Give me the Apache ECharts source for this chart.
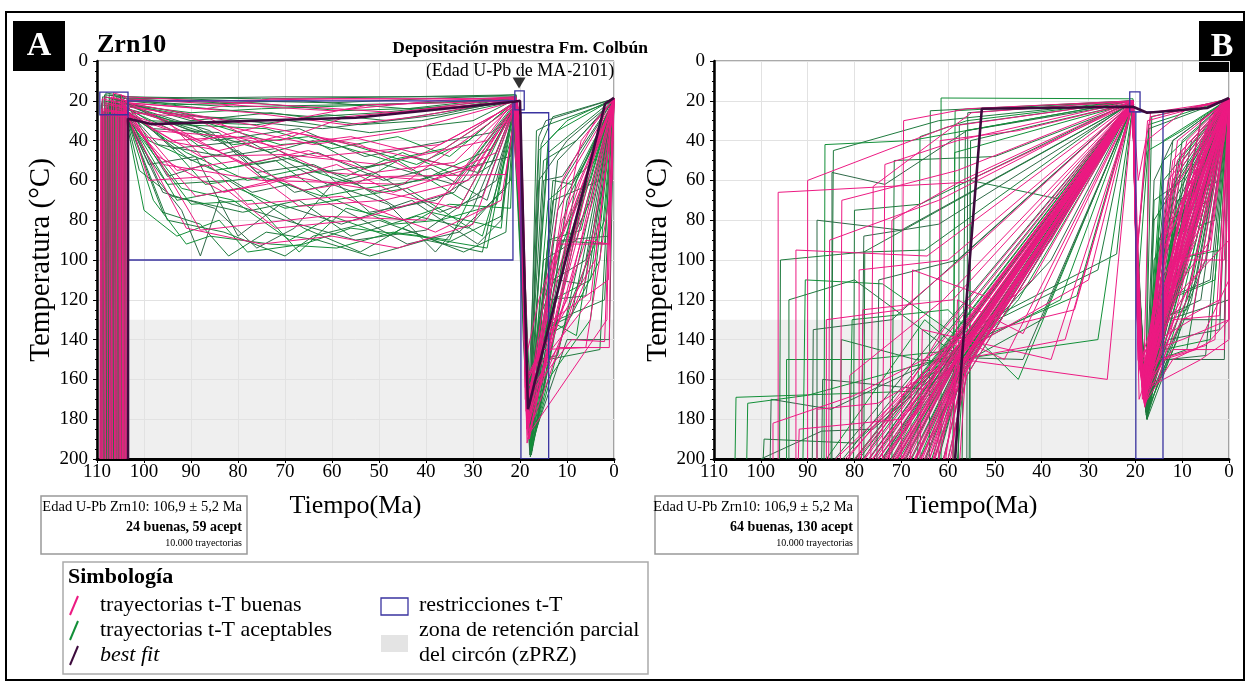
<!DOCTYPE html>
<html><head><meta charset="utf-8">
<script src="https://cdn.jsdelivr.net/npm/echarts@6/dist/echarts.min.js"></script>
<style>html,body{margin:0;padding:0;background:#fff}#c{width:1249px;height:686px}</style>
</head><body><div id="c"></div>
<script>
// ---- axes ----
const timeMin = 0, timeMax = 110, timeStep = 10;
const tempMin = 0, tempMax = 200, tempStep = 20;
const zprzTop = 130, zprzBottom = 200;

// ---- t-T constraint boxes [tOld, Ttop, tYoung, Tbottom] ----
const boxesA = [[109.4,15.6,103.4,27],[103.4,20,21.5,100],[21.1,15,19.1,24.6],[19.8,26,13.9,200]];
const boxesB = [[21.2,15.5,19.0,25.6],[19.9,25.6,14.1,200]];

// ---- best fit paths (t, T pairs, flattened) ----
const bestA = [103.4,200, 103.4,29, 98.5,31.7, 70,29.5, 55,28.5, 21.3,20.5, 20,20, 18.9,123, 18.3,175, 1.9,21.5, 0,18.5];
const bestB = [58.5,200, 57,148, 52.8,24, 20.5,23, 17.5,26, 4.7,23.6, 0,18.6];

// ---- deposition marker ----
const depMarker = [[20.2, 11]];

// ---- panel A: good paths ----
const goodA = [
[109.2,200, 109,24, 103.8,26, 88,40, 70,30, 52,22, 20.6,20, 19.6,60, 18.6,185, 9,100, 0,19],
[108.5,200, 108.3,18, 103.6,20, 85,20, 60,19, 20.8,19, 19.8,40, 18.9,170, 12,144, 1,144, 0.5,40, 0,19],
[107.8,200, 107.6,22, 103.7,24, 96,52, 75,60, 45,62, 21,22, 19.5,70, 18.3,190, 2,25, 0,19],
[107,200, 106.8,26, 104,25, 98,45, 88,85, 62,78, 40,80, 22,22, 19.4,90, 18,175, 6,90, 1,92, 0,19],
[106.3,200, 106.1,20, 103.9,21, 70,35, 50,45, 30,55, 21,22, 19.7,50, 18.7,160, 14,140, 4,100, 0,19],
[105.6,200, 105.4,25, 104,27, 92,37, 66,65, 48,58, 23,57, 20.8,21, 19.2,110, 18.1,180, 10,60, 0,20],
[105,200, 104.8,17, 103.8,19, 60,25, 38,20, 20.9,18, 19.9,35, 18.5,165, 15,150, 5,120, 0,19],
[104.4,200, 104.2,23, 103.8,24, 95,30, 78,72, 58,68, 38,86, 24,70, 20.7,22, 19.3,95, 18.4,178, 13,100, 3,40, 0,19],
[103.9,200, 103.8,26, 88,48, 70,47, 50,52, 27,40, 20.5,21, 19.6,65, 18.6,172, 8,70, 0,19],
[109,200, 108.9,19, 103.7,22, 82,33, 64,42, 44,35, 20.6,20, 19.1,130, 18.3,188, 1.5,130, 0.8,30, 0,19],
[108.2,200, 108,21, 103.9,23, 99,60, 86,58, 72,84, 55,80, 35,66, 20.4,23, 19.4,80, 18,182, 11,80, 0,20],
[107.4,200, 107.2,27, 104,26, 90,28, 76,44, 56,38, 41,47, 20.6,21, 19.7,45, 18.8,150, 16,120, 7,60, 0,19],
[106.7,200, 106.5,16, 103.6,18, 72,22, 46,26, 20.9,18, 19.5,55, 18.2,168, 9,140, 2,141, 0.6,50, 0,19],
[106,200, 105.8,24, 103.8,25, 93,55, 80,50, 67,73, 49,70, 31,60, 21,22, 19.2,120, 18.5,192, 5,50, 0,19],
[105.3,200, 105.1,21, 103.7,23, 86,29, 61,56, 39,60, 25,46, 20.7,20, 19.8,38, 18.7,176, 12,92, 1,92, 0,20],
[104.7,200, 104.5,26, 103.9,27, 97,48, 83,66, 69,58, 53,64, 33,74, 21.2,24, 19.3,100, 18.1,186, 14,160, 3,80, 0,19],
[104.1,200, 104,20, 103.7,21, 77,26, 57,32, 42,28, 20.8,19, 19.6,58, 18.4,158, 10,120, 0,19],
[109.4,200, 109.2,27, 103.8,28, 89,68, 74,62, 59,52, 47,66, 28,52, 20.5,22, 19.1,140, 18.6,180, 6,110, 0,19],
[108.8,200, 108.6,25, 103.6,26, 94,40, 81,38, 63,48, 37,42, 20.6,21, 19.4,85, 18.2,171, 7,40, 0,19],
[107.1,200, 106.9,18, 103.9,20, 79,52, 65,45, 51,56, 34,51, 21,21, 19.9,42, 18.9,164, 13,130, 1.2,110, 0,19],
[106,200, 105.8,22, 103.7,24, 100,38, 84,45, 68,36, 54,42, 43,55, 29,33, 20.7,20, 19.5,72, 18.3,184, 4,66, 0,19],
[105.1,200, 104.9,26, 103.8,27, 91,84, 75,92, 60,88, 46,94, 30,82, 21.3,25, 19.2,115, 18,190, 9,80, 0,20],
[104.6,200, 104.4,19, 103.6,21, 87,24, 73,19, 36,19, 20.9,19, 19.7,48, 18.8,162, 15,145, 6,144, 0.4,60, 0,19],
[103.7,200, 103.6,23, 98,35, 71,40, 57,28, 21.1,20, 19.3,90, 18.5,175, 11,60, 4,30, 0,19]
];

// ---- panel A: acceptable paths ----
const accA = [
[109.1,200, 108.9,20, 103.7,22, 90,26, 75,24, 50,22, 21,19, 19.5,100, 17.8,196, 12,90, 5,60, 0,19],
[108.6,200, 108.4,17, 103.9,18, 80,20, 60,21, 40,19, 20.8,17, 19.8,60, 17.5,190, 13,60, 9,62, 0,20],
[108,200, 107.8,23, 103.6,25, 97,60, 92,75, 88,98, 84,70, 70,80, 55,90, 40,85, 25,60, 21,21, 19.3,140, 17.9,198, 14,120, 6,118, 0,19],
[107.5,200, 107.3,19, 103.8,21, 99,40, 85,55, 72,50, 60,70, 44,64, 28,88, 22,40, 20.6,20, 19.6,80, 18,185, 16,45, 12,35, 0,19],
[107,200, 106.8,25, 104,26, 95,80, 83,86, 70,98, 64,88, 50,80, 36,92, 24,78, 21,22, 19.4,110, 17.6,194, 10,70, 3,36, 0,19],
[106.5,200, 106.3,21, 103.8,22, 86,35, 74,60, 62,55, 52,76, 38,70, 26,52, 20.7,20, 19.7,70, 17.9,188, 15,100, 8,90, 0,20],
[106,200, 105.8,18, 103.7,19, 93,22, 77,21, 58,25, 32,23, 20.9,18, 19.9,45, 18.2,180, 14,40, 10,30, 0,19],
[105.5,200, 105.3,26, 103.9,27, 100,45, 95,62, 82,60, 66,84, 54,96, 45,84, 32,96, 23,86, 21.2,24, 19.2,130, 17.7,197, 13,140, 4,40, 0,19],
[105,200, 104.8,24, 103.7,25, 90,50, 80,45, 68,66, 56,60, 46,74, 34,66, 21,22, 19.5,95, 18,192, 12,110, 7,112, 2,60, 0,19],
[104.5,200, 104.3,20, 103.8,21, 96,30, 81,42, 65,38, 48,50, 36,44, 20.8,20, 19.8,55, 18.4,176, 16,130, 11,100, 0,19],
[104,200, 103.9,27, 101,55, 94,68, 79,76, 67,70, 56,88, 42,78, 31,84, 22,60, 21,23, 19.3,120, 17.8,199, 14,150, 3,145, 0.5,30, 0,19],
[109.3,200, 109.1,22, 103.6,24, 89,33, 76,52, 63,46, 49,60, 39,54, 27,70, 20.6,22, 19.6,75, 17.9,193, 15,60, 11,58, 0,19],
[108.9,200, 108.7,26, 103.9,27, 98,70, 91,92, 86,88, 73,92, 59,94, 47,86, 35,90, 21.5,24, 19.2,135, 17.6,195, 9,120, 2,80, 0,20],
[108.3,200, 108.1,16, 103.8,18, 75,19, 45,18, 21,17, 19.8,38, 18.1,183, 15.5,42, 13,28, 0,19],
[107.7,200, 107.5,21, 103.7,23, 94,44, 78,40, 61,62, 51,56, 37,76, 28,68, 20.7,21, 19.5,85, 17.8,190, 12,75, 6,50, 0,19],
[107.2,200, 107,24, 103.9,25, 97,36, 87,62, 75,58, 62,68, 53,64, 41,60, 26,44, 20.6,21, 19.7,68, 18.3,182, 14,130, 8,138, 0,19],
[106.8,200, 106.6,19, 103.6,21, 88,28, 69,30, 52,36, 30,30, 20.8,19, 19.6,62, 18,187, 16.5,35, 14,32, 0,20],
[106.2,200, 106,27, 104,27, 96,66, 85,74, 76,94, 68,84, 60,62, 48,72, 38,96, 30,74, 21.1,23, 19.3,125, 17.5,196, 11,100, 5,70, 0,19],
[105.7,200, 105.5,22, 103.8,24, 91,38, 82,54, 71,48, 57,58, 45,46, 33,58, 20.7,21, 19.6,78, 17.9,189, 13,90, 2,92, 0,19],
[105.2,200, 105,17, 103.7,19, 84,21, 66,20, 44,24, 20.9,18, 19.9,40, 18.2,178, 15,50, 8,40, 0,19],
[104.8,200, 104.6,25, 103.9,26, 99,52, 89,48, 80,88, 71,72, 58,82, 43,70, 29,92, 24,80, 21.2,24, 19.2,118, 17.7,193, 10,140, 1,140, 0,19],
[104.2,200, 104,21, 103.6,22, 92,32, 74,34, 60,44, 46,38, 35,48, 20.8,20, 19.7,66, 18.1,186, 14,70, 4,50, 0,19],
[109,200, 108.8,18, 103.8,20, 86,24, 64,28, 50,26, 20.9,19, 19.8,52, 18,191, 16,150, 12,148, 0,20],
[108.4,200, 108.2,24, 103.7,25, 95,58, 87,52, 77,66, 69,62, 55,78, 44,92, 33,86, 23,64, 21,22, 19.4,105, 17.8,194, 13,110, 6,100, 0,19],
[107.9,200, 107.7,27, 103.9,28, 100,75, 93,88, 84,80, 78,96, 66,92, 56,84, 42,88, 27,94, 21.4,25, 19.2,128, 17.6,197, 9,90, 0,19],
[107.3,200, 107.1,20, 103.6,21, 90,30, 73,26, 54,32, 41,30, 20.7,20, 19.6,72, 18.3,179, 15,120, 7,65, 0,19],
[106.9,200, 106.7,23, 103.8,24, 97,42, 83,48, 72,44, 63,56, 49,52, 34,62, 20.6,21, 19.5,88, 17.9,188, 12,50, 0,20],
[106.4,200, 106.2,26, 103.7,27, 93,70, 80,64, 70,74, 59,70, 47,82, 37,80, 25,72, 21.1,23, 19.3,115, 17.7,192, 15.5,140, 10,132, 3,100, 0,19],
[105.9,200, 105.7,19, 103.9,20, 81,23, 57,22, 36,21, 20.9,18, 19.8,50, 18.2,181, 14,46, 0,19],
[105.4,200, 105.2,24, 103.8,25, 98,34, 84,36, 76,56, 64,52, 51,66, 39,58, 22,48, 20.7,21, 19.6,76, 18,184, 11,90, 1,88, 0,19],
[104.9,200, 104.7,21, 103.6,22, 94,26, 71,42, 59,40, 42,52, 31,40, 20.8,20, 19.7,64, 18.3,180, 13,120, 5,110, 0,19],
[104.3,200, 104.1,26, 103.9,27, 96,76, 88,82, 82,98, 74,86, 63,90, 52,98, 40,90, 28,96, 21.3,24, 19.2,130, 17.6,198, 12,130, 2,120, 0,19],
[109.2,200, 109,21, 103.7,22, 85,40, 67,34, 53,48, 40,42, 26,36, 20.7,20, 19.6,70, 18,185, 16,60, 10,40, 0,20],
[108.7,200, 108.5,25, 103.8,26, 91,46, 78,60, 66,54, 55,62, 46,50, 32,70, 21,22, 19.4,100, 17.8,192, 14,90, 7,85, 0,19],
[108.1,200, 107.9,22, 103.9,23, 99,30, 76,32, 61,27, 48,30, 20.8,20, 19.8,56, 18.2,182, 13,70, 3,60, 0,19],
[107.6,200, 107.4,17, 103.6,19, 70,18, 20.9,18, 19.9,42, 18.3,177, 16,38, 14.5,30, 0,19],
[107,200, 106.8,26, 103.8,27, 92,64, 81,70, 69,90, 60,78, 48,88, 39,76, 24,84, 21.2,24, 19.3,112, 17.7,195, 8,60, 0,19],
[106.6,200, 106.4,23, 103.7,24, 87,36, 73,46, 64,40, 53,54, 43,48, 29,56, 20.7,21, 19.6,74, 18.1,183, 15,135, 9,128, 0,20],
[106.1,200, 105.9,20, 103.9,21, 96,26, 79,30, 62,34, 37,27, 20.8,19, 19.7,58, 18.3,175, 12,65, 0,19],
[105.6,200, 105.4,27, 103.8,28, 97,50, 90,72, 77,70, 67,96, 57,74, 45,80, 35,72, 22,74, 21.3,25, 19.3,110, 17.7,196, 14,160, 5,130, 0,19]
];

// ---- panel B: good paths ----
const goodB = [
[72,200, 58,148, 20.5,21, 19.6,120, 18.2,165, 2,22, 0,19],
[68,200, 57,152, 20.4,22, 19.8,100, 18.5,170, 12,80, 0,19],
[76,200, 59,140, 20.6,20, 19.5,140, 18,172, 4,30, 0,19],
[64,200, 56.5,155, 20.5,22, 19.7,110, 18.6,160, 15,150, 5,143, 0,130, 0,19],
[80,200, 60,142, 20.5,21, 19.4,150, 17.9,168, 9,70, 0,19],
[62,200, 57.5,150, 20.3,23, 19.8,90, 18.4,155, 14,120, 1,30, 0,19],
[70,200, 58.5,145, 20.5,21, 19.6,130, 18.1,170, 6,40, 0,19],
[66,200, 57,160, 45,110, 20.6,20, 19.5,125, 18.3,165, 16,140, 3,25, 0,19],
[74,200, 58,150, 20.5,22, 19.7,105, 18.6,158, 11,100, 1,100, 0,19],
[60,200, 56,158, 20.4,22, 19.8,95, 18.5,162, 8,55, 0,19],
[78,200, 61,135, 20.6,20, 19.4,145, 18,174, 13,130, 2,40, 0,19],
[58.5,200, 56.8,150, 20.5,21, 19.6,115, 18.3,168, 5,35, 0,19],
[84,200, 62,150, 20.6,20, 19.5,135, 18.2,170, 15,100, 0,19],
[69,200, 57.5,146, 20.5,21, 19.7,108, 18.7,150, 7,90, 0,19],
[73,200, 58.7,142, 20.5,22, 19.6,122, 18.4,164, 10,45, 0,19],
[65,200, 57.2,154, 20.5,21, 19.8,98, 18.5,166, 14,160, 6,150, 0,140, 0,19],
[61,200, 56.3,156, 20.4,22, 19.5,130, 18.1,171, 3,26, 0,19],
[77,200, 59.5,148, 20.6,20, 19.7,112, 18.6,161, 12,60, 0,19],
[71,200, 58,150, 38,90, 20.5,21, 19.6,118, 18.3,167, 9,120, 0,19],
[82,200, 60.5,145, 20.6,21, 19.4,138, 18,173, 16,130, 4,90, 0,19],
[67,200, 57.3,153, 20.5,21, 19.7,104, 18.4,163, 2,30, 0,19],
[63,200, 56.7,152, 20.5,22, 19.8,92, 18.6,157, 13,110, 0,19],
[97.4,200, 97.4,182, 80,168, 57,140, 20.5,21, 19.5,128, 18.2,169, 10,70, 0,19],
[96.3,200, 96.3,66, 56.4,61, 20.5,21, 19.6,116, 18.4,160, 6,75, 0,19],
[92.5,200, 92.5,95, 64.5,98, 20.6,21, 19.7,100, 18.5,165, 12,145, 1,145, 0,19],
[86,200, 86,130, 70,125, 55,95, 20.5,21, 19.5,132, 18.1,170, 5,60, 0,19],
[90,200, 90,60, 60,33, 20.6,20, 19.8,80, 18.7,150, 15,120, 0,19],
[79,200, 79,105, 60,100, 20.5,21, 19.6,112, 18.3,166, 8,110, 0,19],
[74,200, 73.5,52, 58,40, 20.5,20, 19.7,96, 18.5,163, 11,50, 0,19],
[76.5,200, 76,63, 55,26, 20.5,20, 19.5,120, 18,172, 14,150, 7,145, 0,110, 0,19],
[70,200, 69.5,30, 56,24, 20.6,20, 19.6,110, 18.4,168, 3,40, 0,19],
[62,200, 61.7,40, 45,35, 20.5,21, 19.8,88, 18.6,155, 9,95, 0,19],
[88,200, 88,175, 75,172, 59,150, 20.5,21, 19.5,126, 18.2,168, 13,90, 0,19],
[81,200, 81,158, 61,120, 20.6,21, 19.7,102, 18.5,162, 2,35, 0,19],
[59,200, 58,120, 44,137, 20.5,22, 19.6,118, 18.3,167, 6,30, 0,19],
[66,200, 65.5,135, 38,150, 20.5,22, 19.5,130, 18.1,170, 16,145, 10,140, 0,130, 0,19],
[72,200, 59,140, 33,125, 20.6,21, 19.7,98, 18.5,158, 12,100, 4,95, 0,19],
[64,200, 57,150, 26,160, 20.5,22, 19.6,114, 18.4,165, 15,160, 0,19],
[60.5,200, 57.5,145, 20.5,21, 19.2,170, 17.8,160, 8,50, 0,19],
[75,200, 58.2,150, 20.5,21, 19.5,140, 18,168, 10,130, 2,120, 0,19],
[68.5,200, 57.8,148, 20.5,21, 19.6,110, 18.3,164, 14,135, 5,100, 0,19],
[79.5,200, 60,145, 20.6,20, 19.8,85, 18.6,152, 12,120, 0,90, 0,19],
[57.5,200, 56.2,155, 20.4,22, 19.5,128, 18.2,166, 16,150, 1,25, 0,19],
[71.5,200, 58.4,147, 20.5,21, 19.7,106, 18.4,160, 7,60, 0,19],
[65.5,200, 57,151, 20.5,21, 19.6,95, 17.4,30, 0,19],
[73.5,200, 58.6,146, 20.5,21, 19.4,60, 16.8,28, 0,20],
[75.5,200, 59.3,144, 20.5,21, 19.6,124, 18.3,168, 11,90, 0,19],
[70.8,200, 58.1,149, 20.5,21, 19.7,100, 18.5,160, 9,40, 0,19],
[66.8,200, 57.2,153, 20.5,21, 19.5,134, 18.1,172, 13,70, 0,19],
[62.8,200, 56.6,155, 20.4,22, 19.8,94, 18.6,158, 15,130, 3,60, 0,19],
[77.8,200, 59.8,143, 20.6,20, 19.4,142, 18,173, 7,50, 0,19],
[73.2,200, 58.5,147, 20.5,21, 19.6,118, 18.3,166, 10,110, 0,19],
[69.5,200, 57.7,150, 20.5,21, 19.7,104, 18.4,162, 4,28, 0,19],
[64.5,200, 56.9,154, 20.5,22, 19.5,128, 18.2,170, 12,130, 2,128, 0,19],
[81.5,200, 61,140, 20.6,20, 19.6,112, 18.4,164, 14,90, 0,19],
[59.5,200, 56.4,156, 20.4,22, 19.8,90, 18.6,156, 6,60, 0,19],
[85.5,200, 85.3,90, 62,70, 20.6,20, 19.5,126, 18.2,168, 11,40, 0,19],
[78.5,200, 78.2,125, 59,120, 20.5,21, 19.7,108, 18.4,162, 8,85, 0,19],
[72.5,200, 72,80, 57,60, 20.5,20, 19.6,116, 18.3,166, 13,60, 0,19],
[68,200, 67.6,105, 50,120, 20.5,21, 19.5,130, 18.1,170, 16,120, 5,80, 0,19],
[63.2,200, 57,140, 48,150, 20.5,22, 19.7,102, 18.5,160, 10,100, 0,19],
[74.8,200, 58.9,145, 42,110, 20.5,21, 19.6,120, 18.3,166, 12,50, 0,19],
[67.2,200, 57.4,150, 35,140, 20.5,22, 19.5,132, 18.2,170, 15,140, 8,130, 0,19],
[71.2,200, 58.2,148, 30,110, 20.5,21, 19.8,92, 18.6,156, 4,45, 0,19],
[83,200, 82.7,70, 58,55, 20.6,20, 19.6,110, 18.4,164, 9,65, 0,19],
[92,200, 91.8,185, 70,180, 58,150, 20.5,21, 19.5,136, 18.2,170, 14,110, 0,19],
[60.8,200, 56.5,153, 20.5,21, 19.4,150, 18,172, 12,150, 3,140, 0,19],
[76.2,200, 59.4,145, 20.5,21, 19.6,122, 18.3,167, 16.8,26, 0,20],
[65.8,200, 57.3,152, 20.5,21, 19.7,100, 17.6,40, 9,24, 0,19],
[69.8,200, 57.9,149, 20.5,21, 19.5,90, 18.5,150, 1,40, 0,19]
];

// ---- panel B: acceptable paths ----
const accB = [
[105.5,200, 105.3,169, 68,166, 56,140, 20.5,21, 19.5,130, 17.6,178, 12,120, 0,19],
[94,200, 94,120, 80,110, 58,148, 20.6,21, 19.6,110, 17.8,175, 10,80, 0,19],
[84.8,200, 84.8,56, 73.5,62, 56,35, 20.5,21, 19.7,95, 17.5,180, 15,120, 3,40, 0,19],
[61.5,200, 61.5,18.6, 20.5,19, 19.5,115, 17.9,170, 9,60, 0,19],
[78,200, 77.8,96, 65,95, 20.6,20, 19.6,120, 17.7,176, 14,100, 0,19],
[70,200, 58,148, 20.5,21, 19.8,90, 17.6,172, 13,80, 4,70, 0,19],
[66,200, 57,155, 20.5,22, 19.5,135, 17.5,179, 11,130, 0,19],
[74,200, 59,142, 20.5,21, 19.6,118, 17.8,174, 6,30, 0,19],
[63,200, 56.4,154, 20.4,22, 19.7,100, 17.7,171, 16,60, 12,40, 0,19],
[86,200, 65,130, 57,146, 20.6,21, 19.5,125, 17.6,177, 10,110, 0,20],
[55.5,200, 55.2,40, 20.5,21, 19.8,80, 17.9,165, 8,90, 0,19],
[56,200, 55.8,26, 20.6,20, 19.6,105, 17.5,178, 15,130, 6,120, 0,19],
[59,200, 58.5,25, 20.5,20, 19.7,95, 17.8,170, 14,40, 0,19],
[64,200, 63.8,25, 20.5,20, 19.5,128, 17.6,176, 11,70, 2,60, 0,19],
[88,200, 88,80, 70,85, 20.6,21, 19.6,110, 17.7,172, 13,150, 5,148, 0,19],
[81,200, 80.5,130, 60,125, 45,160, 20.5,21, 19.8,88, 17.9,168, 9,100, 0,19],
[72,200, 71.5,50, 50,48, 20.5,21, 19.5,132, 17.5,180, 16,100, 0,19],
[68,200, 57.5,150, 38,100, 20.5,21, 19.7,100, 17.6,174, 12,90, 0,19],
[76,200, 58.8,145, 32.5,118, 20.6,21, 19.6,112, 17.8,171, 7,80, 0,19],
[79,200, 59.5,140, 24,97, 20.5,21, 19.5,122, 17.7,175, 14,70, 0,19],
[98,200, 97.8,170, 85,175, 58,145, 20.5,21, 19.6,108, 17.5,177, 10,130, 1,130, 0,19],
[91,200, 90.5,110, 74,112, 57,140, 20.5,21, 19.8,86, 17.9,166, 15,140, 8,100, 0,19],
[83,200, 82.8,140, 67,150, 56.5,152, 20.5,22, 19.5,124, 17.6,178, 12,110, 0,19],
[60,200, 56,158, 20.4,22, 19.7,98, 17.8,170, 11,50, 0,19],
[69,200, 57.6,149, 20.5,21, 19.6,115, 17.7,173, 13,120, 3,110, 0,19],
[75,200, 58.5,146, 20.5,21, 19.5,130, 17.5,179, 16,70, 10,60, 0,19],
[62,200, 56.6,153, 20.4,22, 19.8,92, 17.9,167, 8,40, 0,19],
[71,200, 58.1,148, 20.5,21, 19.6,106, 17.6,175, 14,145, 4,140, 0,19],
[77,200, 59.2,143, 20.6,21, 19.7,102, 17.8,169, 9,75, 0,19],
[65,200, 57.1,152, 20.5,21, 19.5,127, 17.5,178, 15,90, 0,19],
[58,200, 56.5,150, 45,120, 20.5,22, 19.7,98, 17.7,172, 12,100, 2,95, 0,19],
[80,200, 60,140, 20.6,20, 19.6,112, 17.6,176, 10,50, 0,19],
[67,200, 57.4,151, 20.5,21, 19.8,85, 17.9,165, 13,130, 0,120, 0,19],
[73,200, 58.3,146, 20.5,21, 19.5,133, 17.5,180, 6,45, 0,19],
[85,200, 84.5,45, 62,30, 20.6,20, 19.6,108, 17.7,170, 14,80, 0,19],
[100,200, 87,186, 76,185, 59,150, 20.5,21, 19.7,96, 17.8,168, 11,115, 0,19],
[94.5,200, 94.5,150, 78,150, 57,145, 20.5,21, 19.5,121, 17.6,177, 16,130, 9,125, 0,19],
[55.3,200, 55.3,60, 35,70, 20.6,21, 19.6,110, 17.8,172, 12,60, 0,19],
[87,200, 86.8,160, 65,165, 50,135, 20.5,21, 19.7,100, 17.7,174, 5,100, 0,19],
[70.5,200, 57.9,150, 28,140, 20.5,22, 19.6,113, 17.6,176, 15,110, 7,90, 0,19],
[63.5,200, 56.9,152, 40,130, 20.5,22, 19.5,126, 17.5,179, 13,100, 0,19],
[78.5,200, 78,88, 62,82, 20.6,21, 19.8,88, 17.9,164, 10,40, 0,19],
[66.5,200, 66,38, 56,30, 20.5,20, 19.6,115, 17.7,170, 17.2,32, 0,19],
[57,200, 56.3,35, 20.5,20, 19.7,100, 17.8,168, 16.5,28, 0,19],
[71.8,200, 58.2,147, 20.5,21, 19.6,112, 17.7,176, 10,90, 0,19],
[67.8,200, 57.5,151, 20.5,21, 19.8,90, 17.9,166, 14,60, 0,19],
[64.8,200, 56.9,153, 20.5,22, 19.5,128, 17.5,180, 8,120, 0,19],
[76.8,200, 59.6,143, 20.6,20, 19.6,106, 17.8,172, 12,40, 0,19],
[61,200, 56.4,155, 20.4,22, 19.7,98, 17.6,175, 15,90, 3,80, 0,19],
[73.8,200, 58.7,146, 20.5,21, 19.5,124, 17.7,178, 6,60, 0,19],
[82.5,200, 61.5,140, 20.6,20, 19.6,108, 17.6,174, 13,140, 2,135, 0,19],
[79.8,200, 60.4,142, 20.6,20, 19.7,100, 17.8,170, 11,75, 0,19],
[96,200, 95.8,100, 78,96, 20.6,21, 19.5,126, 17.6,178, 16,80, 0,19],
[89,200, 88.8,135, 72,130, 20.5,21, 19.8,90, 17.9,165, 7,110, 0,19],
[86.5,200, 86.3,42, 68,40, 20.6,20, 19.6,116, 17.7,172, 14,50, 0,19],
[80.2,200, 80,75, 66,72, 20.6,20, 19.5,130, 17.5,179, 10,60, 0,19],
[75.2,200, 74.8,110, 58,100, 20.5,21, 19.7,104, 17.8,170, 12,120, 0,19],
[58.8,200, 58.6,46, 20.5,21, 19.6,110, 17.6,176, 5,35, 0,19],
[57.8,200, 57.6,32, 20.5,20, 19.5,124, 17.7,174, 15,150, 9,145, 0,19],
[69.2,200, 57.7,149, 44,150, 20.5,22, 19.7,100, 17.8,170, 13,95, 0,19],
[72.2,200, 58.4,147, 36,120, 20.5,21, 19.6,114, 17.6,176, 11,140, 0,19],
[78.2,200, 59.9,142, 28,105, 20.6,21, 19.5,128, 17.5,180, 8,70, 0,19],
[84.2,200, 62.5,138, 20.6,20, 19.8,86, 17.9,166, 14,120, 4,110, 0,19],
[66.2,200, 57.3,151, 20.5,21, 19.6,118, 17.3,45, 10,35, 0,19],
[62.2,200, 56.7,153, 20.5,22, 19.7,96, 17.1,34, 0,19],
[74.2,200, 58.8,146, 20.5,21, 19.5,120, 17.7,176, 16,150, 1,150, 0,19],
[103,200, 102.8,172, 90,168, 59,148, 20.5,21, 19.6,110, 17.8,170, 12,85, 0,19],
[99.5,200, 99.3,190, 80,192, 60,150, 20.5,21, 19.7,102, 17.6,176, 9,100, 0,19]
];

// ---- style constants ----
const FONT = "'Liberation Serif','Times New Roman',serif";
const PINK = '#ec1a82';
const GREEN = ['#128f38', '#1f7a3e', '#2f6a48'];
const BEST = '#3d0b3d';
const BOXC = '#3a33a0';
const ZONE = '#efefef';

function pairs(f){const o=[];for(let i=0;i<f.length;i+=2)o.push([f[i],f[i+1]]);return o;}

const grids = [
  {left:97, top:61, width:517, height:398},
  {left:714, top:61, width:515, height:398}
];

function xAx(gi){
  return {gridIndex:gi, type:'value', min:timeMin, max:timeMax, interval:timeStep, inverse:true,
    name:'Tiempo(Ma)', nameLocation:'middle', nameGap:34,
    nameTextStyle:{fontFamily:FONT, fontSize:26, color:'#000'},
    axisLine:{show:true, onZero:false, lineStyle:{color:'#000', width:3}},
    axisTick:{show:true, length:4, lineStyle:{color:'#000', width:1}},
    minorTick:{show:true, splitNumber:5, length:2, lineStyle:{color:'#000'}},
    axisLabel:{fontFamily:FONT, fontSize:19, color:'#000', margin:4, showMinLabel:true, showMaxLabel:true},
    splitLine:{show:true, lineStyle:{color:'#e2e2e2', width:1}}};
}
function yAx(gi){
  return {gridIndex:gi, type:'value', min:tempMin, max:tempMax, interval:tempStep, inverse:true,
    name:'Temperatura (°C)', nameLocation:'middle', nameGap:40, nameRotate:90,
    nameTextStyle:{fontFamily:FONT, fontSize:29, color:'#000'},
    axisLine:{show:true, onZero:false, lineStyle:{color:'#000', width:2.5}},
    axisTick:{show:true, length:4, lineStyle:{color:'#000', width:1}},
    minorTick:{show:true, splitNumber:4, length:2, lineStyle:{color:'#000'}},
    axisLabel:{fontFamily:FONT, fontSize:19, color:'#000', margin:9, showMinLabel:true, showMaxLabel:true},
    splitLine:{show:true, lineStyle:{color:'#e2e2e2', width:1}}};
}

function rectSeries(gi, boxes, style, z){
  return {type:'custom', xAxisIndex:gi, yAxisIndex:gi, z:z, silent:true, clip:true,
    data: boxes,
    renderItem: function(params, api){
      const p1 = api.coord([api.value(0), api.value(1)]);
      const p2 = api.coord([api.value(2), api.value(3)]);
      return {type:'rect', shape:{x:Math.min(p1[0],p2[0]), y:Math.min(p1[1],p2[1]), width:Math.abs(p2[0]-p1[0]), height:Math.abs(p2[1]-p1[1])}, style:style};
    }};
}
function trajSeries(gi, list, colors, z){
  return {type:'lines', coordinateSystem:'cartesian2d', xAxisIndex:gi, yAxisIndex:gi, polyline:true, clip:true, silent:true, z:z,
    lineStyle:{width:1, opacity:1},
    data: list.map((f,i)=>({coords:pairs(f), lineStyle:{color:colors[i%colors.length], width:1, opacity:1}}))};
}
function bestSeries(gi, f){
  return {type:'line', xAxisIndex:gi, yAxisIndex:gi, data:pairs(f), symbol:'none', z:6, clip:true, silent:true,
    lineStyle:{color:BEST, width:2.6}};
}

const series = [];
[0,1].forEach(gi=>{
  series.push(rectSeries(gi, [[timeMax, zprzTop, timeMin, zprzBottom]], {fill:ZONE, stroke:null}, -1));
});
series.push(trajSeries(0, accA, GREEN, 2));
series.push(trajSeries(0, goodA, [PINK], 3));
series.push(trajSeries(1, accB, GREEN, 2));
series.push(trajSeries(1, goodB, [PINK], 3));
series.push(rectSeries(0, boxesA, {fill:'none', stroke:BOXC, lineWidth:1.3}, 5));
series.push(rectSeries(1, boxesB, {fill:'none', stroke:BOXC, lineWidth:1.3}, 5));
series.push(bestSeries(0, bestA));
series.push(bestSeries(1, bestB));
series.push({type:'scatter', xAxisIndex:0, yAxisIndex:0, data:depMarker, symbol:'triangle', symbolRotate:180, symbolSize:[13,11], itemStyle:{color:'#000'}, z:7, silent:true});

function txt(x,y,text,size,opt){
  return {type:'text', x:x, y:y, silent:true, style:Object.assign({text:text, fontFamily:FONT, fontSize:size, fill:'#000', align:'left', verticalAlign:'middle'}, opt||{})};
}

const graphic = [
  {type:'rect', shape:{x:6, y:12, width:1238, height:668}, style:{fill:'none', stroke:'#000', lineWidth:2}, silent:true},
  {type:'rect', shape:{x:13, y:21, width:52, height:50}, style:{fill:'#000'}, silent:true},
  txt(39,46,'A',34,{fill:'#fff', fontWeight:'bold', align:'center'}),
  {type:'rect', shape:{x:1199, y:21, width:45, height:51}, style:{fill:'#000'}, silent:true},
  txt(1222,47,'B',34,{fill:'#fff', fontWeight:'bold', align:'center'}),
  txt(97,45,'Zrn10',26,{fontWeight:'bold'}),
  txt(648,48,'Depositación muestra Fm. Colbún',17.5,{fontWeight:'bold', align:'right'}),
  txt(520,71,'(Edad U-Pb de MA-2101)',18,{align:'center'}),
  // info box A
  {type:'rect', shape:{x:41, y:496, width:206, height:58}, style:{fill:'#fff', stroke:'#999', lineWidth:1.5}, silent:true},
  txt(242,507,'Edad U-Pb Zrn10: 106,9 ± 5,2 Ma',14.5,{align:'right'}),
  txt(242,527,'24 buenas, 59 acept',14,{align:'right', fontWeight:'bold'}),
  txt(242,543,'10.000 trayectorias',10,{align:'right'}),
  // info box B
  {type:'rect', shape:{x:655, y:496, width:203, height:58}, style:{fill:'#fff', stroke:'#999', lineWidth:1.5}, silent:true},
  txt(853,507,'Edad U-Pb Zrn10: 106,9 ± 5,2 Ma',14.5,{align:'right'}),
  txt(853,527,'64 buenas, 130 acept',14,{align:'right', fontWeight:'bold'}),
  txt(853,543,'10.000 trayectorias',10,{align:'right'}),
  // legend
  {type:'rect', shape:{x:63, y:562, width:585, height:112}, style:{fill:'#fff', stroke:'#aaa', lineWidth:1.5}, silent:true},
  txt(68,577,'Simbología',22,{fontWeight:'bold'}),
  {type:'line', shape:{x1:70, y1:615, x2:78, y2:596}, style:{stroke:PINK, lineWidth:2}, silent:true},
  txt(100,605,'trayectorias t-T buenas',22),
  {type:'line', shape:{x1:70, y1:640, x2:78, y2:621}, style:{stroke:GREEN[0], lineWidth:2}, silent:true},
  txt(100,630,'trayectorias t-T aceptables',22),
  {type:'line', shape:{x1:70, y1:665, x2:78, y2:646}, style:{stroke:BEST, lineWidth:2}, silent:true},
  txt(100,655,'best fit',22,{fontStyle:'italic'}),
  {type:'rect', shape:{x:381, y:598, width:27, height:17}, style:{fill:'#fff', stroke:BOXC, lineWidth:1.3}, silent:true},
  txt(419,605,'restricciones t-T',22),
  {type:'rect', shape:{x:381, y:635, width:27, height:17}, style:{fill:'#e4e4e4'}, silent:true},
  txt(419,630,'zona de retención parcial',22),
  txt(419,655,'del circón (zPRZ)',22)
];

const chart = echarts.init(document.getElementById('c'), null, {renderer:'canvas'});
chart.setOption({
  animation:false,
  backgroundColor:'#fff',
  grid: grids.map(g=>Object.assign({show:true, borderColor:'#555', borderWidth:1, backgroundColor:'transparent'}, g)),
  xAxis:[xAx(0), xAx(1)],
  yAxis:[yAx(0), yAx(1)],
  series: series,
  graphic: graphic
});
</script></body></html>
